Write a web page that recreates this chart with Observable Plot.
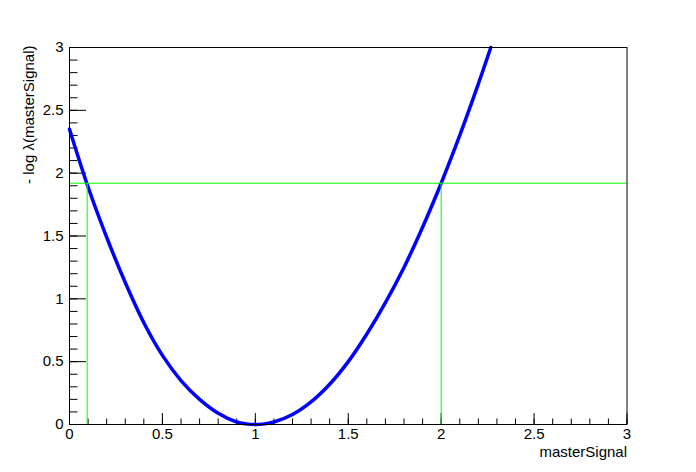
<!DOCTYPE html>
<html>
<head>
<meta charset="utf-8">
<script src="https://cdn.jsdelivr.net/npm/d3@7"></script>
<script src="https://cdn.jsdelivr.net/npm/@observablehq/plot@0.6"></script>
<style>
  html, body { margin: 0; padding: 0; background: #fff; }
  #chart svg { display: block; }
</style>
</head>
<body>
<div id="chart"></div>
<script>
// Profile likelihood curve values
const muValues  = [0, 0.1, 0.2, 0.3, 0.4, 0.5, 0.6, 0.7, 0.8, 0.9, 0.95, 1.0, 1.05, 1.1, 1.2, 1.3, 1.4, 1.5, 1.6, 1.7, 1.8, 1.9, 2.0, 2.1, 2.2, 2.267];
const nllValues = [2.35, 1.89, 1.49, 1.13, 0.81, 0.55, 0.35, 0.20, 0.09, 0.02, 0.005, 0.0, 0.005, 0.02, 0.08, 0.18, 0.32, 0.50, 0.72, 0.97, 1.25, 1.57, 1.92, 2.30, 2.71, 3.0];

// Interval markers
const levelY = [1.92];
const limitsX = [0.095, 2.0];

// Axis ticks and titles
const majorTicks = [0, 0.5, 1, 1.5, 2, 2.5, 3];
const minorTicks = d3.range(0, 31).map(i => i / 10);
const xTitle = "masterSignal";
const yTitle = "- log λ(masterSignal)";

const data = muValues.map((m, i) => ({mu: m, nll: nllValues[i]}));

const W = 696, H = 472;
const mL = 69, mR = 69.5, mT = 47, mB = 48;
const plotW = W - mL - mR, plotH = H - mT - mB;
const xSpan = 3, ySpan = 3;
// tick lengths in pixels, converted to data units
const xMajLen = 11 / plotH * ySpan, xMinLen = 5.5 / plotH * ySpan;
const yMajLen = 17 / plotW * xSpan, yMinLen = 8.5 / plotW * xSpan;

const font = "'Liberation Sans', Arial, Helvetica, sans-serif";
const green = "#00ff00";

const chart = Plot.plot({
  width: W,
  height: H,
  marginLeft: mL,
  marginRight: mR,
  marginTop: mT,
  marginBottom: mB,
  style: {fontFamily: font, fontSize: "15px", color: "black", background: "white"},
  x: {domain: [0, 3]},
  y: {domain: [0, 3]},
  marks: [
    // y-axis ticks (inward)
    Plot.ruleY(minorTicks, {y: d => d, x1: 0, x2: yMinLen, stroke: "black", strokeWidth: 1}),
    Plot.ruleY(majorTicks, {y: d => d, x1: 0, x2: yMajLen, stroke: "black", strokeWidth: 1}),
    // x-axis ticks (inward)
    Plot.ruleX(minorTicks, {x: d => d, y1: 0, y2: xMinLen, stroke: "black", strokeWidth: 1}),
    Plot.ruleX(majorTicks, {x: d => d, y1: 0, y2: xMajLen, stroke: "black", strokeWidth: 1}),
    // curve
    Plot.line(data, {x: "mu", y: "nll", stroke: "#0000ff", strokeWidth: 3.5, curve: "catmull-rom"}),
    // green interval lines
    Plot.ruleY(levelY, {y: d => d, x1: 0, x2: 3, stroke: green, strokeWidth: 1}),
    Plot.ruleX(limitsX, {x: d => d, y1: 0, y2: levelY[0], stroke: green, strokeWidth: 1}),
    Plot.frame({stroke: "black", strokeWidth: 1}),
    Plot.axisX({ticks: majorTicks, tickSize: 0, tickPadding: 4, tickFormat: d => String(d),
      fontSize: 15, label: null}),
    Plot.axisY({ticks: majorTicks, tickSize: 0, tickPadding: 6, tickFormat: d => String(d),
      fontSize: 15, label: null}),
    Plot.text([xTitle], {frameAnchor: "bottom-right", text: d => d, textAnchor: "end",
      lineAnchor: "middle", dy: 28, fontSize: 15, fill: "black"}),
    Plot.text([yTitle], {frameAnchor: "top-left", text: d => d, textAnchor: "end",
      lineAnchor: "middle", rotate: -90, dx: -40, dy: -2, fontSize: 15, fill: "black"})
  ]
});

document.getElementById("chart").appendChild(chart);
</script>
</body>
</html>
